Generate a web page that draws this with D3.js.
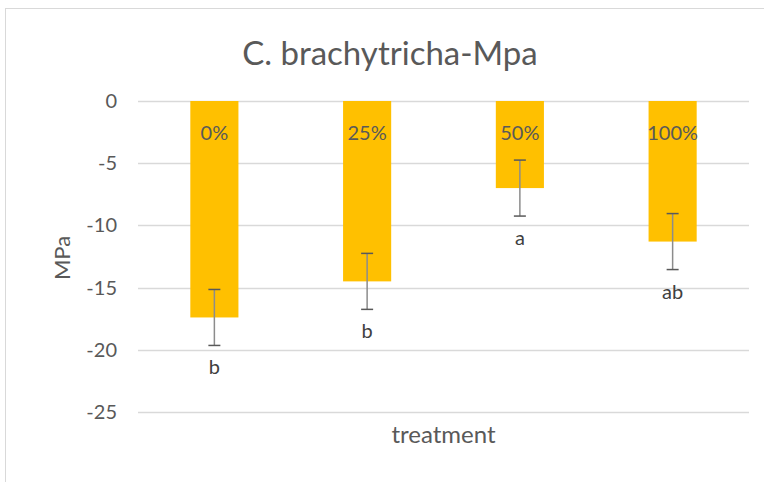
<!DOCTYPE html>
<html>
<head>
<meta charset="utf-8">
<script src="https://cdn.jsdelivr.net/npm/d3@7"></script>
<style>
  body { margin: 0; background: white; }
  text { font-family: Lato, "Liberation Sans", sans-serif; }
</style>
</head>
<body>
<div id="chart_area"></div>
<script>

// Data
var treatments = ["0%", "25%", "50%", "100%"];
var means = [-17.4, -14.5, -7.0, -11.3];
var errors = [2.25, 2.25, 2.25, 2.25];
var letters = ["b", "b", "a", "ab"];
var yTicks = [0, -5, -10, -15, -20, -25];

// Sizes
var svgW = 764;
var svgH = 482;
var margin = {left: 138, right: 15, top: 101, bottom: 70};
var dataW = svgW - margin.left - margin.right;
var dataH = svgH - margin.top - margin.bottom;

var textColor = "#595959";

var svg = d3.select("#chart_area")
            .append("svg")
              .attr("width", svgW)
              .attr("height", svgH);

// Chart border
svg.append("rect")
     .attr("x", 5.5)
     .attr("y", 8.5)
     .attr("width", 770)
     .attr("height", 490)
     .attr("fill", "white")
     .attr("stroke", "#d9d9d9")
     .attr("stroke-width", 1);

// Scales
var yScale = d3.scaleLinear()
                .domain([0, -25])
                .range([0, dataH]);

var xScale = d3.scaleBand()
                .domain(treatments)
                .range([0, dataW])
                .paddingInner(0.685)
                .paddingOuter(0.3425);

var g = svg.append("g")
             .attr("transform", "translate(" + margin.left + "," + margin.top + ")");

// Gridlines
g.selectAll(".grid")
  .data(yTicks)
  .enter()
  .append("line")
    .attr("class", "grid")
    .attr("x1", 0)
    .attr("x2", dataW)
    .attr("y1", function(d) { return Math.round(yScale(d)) + 0.5; })
    .attr("y2", function(d) { return Math.round(yScale(d)) + 0.5; })
    .attr("stroke", "#d9d9d9")
    .attr("stroke-width", 1.5);

// Y axis labels (plain hyphen like the original)
var yAxis = d3.axisLeft(yScale)
              .tickValues(yTicks)
              .tickFormat(function(d) { return String(d); })
              .tickSize(0)
              .tickPadding(21);
var yAxisG = g.append("g").call(yAxis);
yAxisG.select(".domain").remove();
yAxisG.selectAll("text")
        .attr("fill", textColor)
        .style("font-size", "20px");

// Bars
g.selectAll(".bar")
  .data(means)
  .enter()
  .append("rect")
    .attr("class", "bar")
    .attr("x", function(d, i) { return xScale(treatments[i]); })
    .attr("y", yScale(0))
    .attr("width", xScale.bandwidth())
    .attr("height", function(d) { return yScale(d) - yScale(0); })
    .attr("fill", "#ffc000");

// Treatment labels inside bars
g.selectAll(".pct")
  .data(treatments)
  .enter()
  .append("text")
    .attr("class", "pct")
    .attr("x", function(d) { return xScale(d) + xScale.bandwidth() / 2; })
    .attr("y", yScale(0) + 39)
    .attr("text-anchor", "middle")
    .attr("fill", textColor)
    .style("font-size", "20px")
    .text(function(d) { return d; });

// Error bars
var errG = g.selectAll(".err")
            .data(means)
            .enter()
            .append("g")
              .attr("class", "err")
              .attr("transform", function(d, i) {
                return "translate(" + (xScale(treatments[i]) + xScale.bandwidth() / 2) + ",0)";
              });

errG.append("line")
      .attr("x1", 0)
      .attr("x2", 0)
      .attr("y1", function(d, i) { return yScale(d + errors[i]); })
      .attr("y2", function(d, i) { return yScale(d - errors[i]); })
      .attr("stroke", "#8c8c8c")
      .attr("stroke-width", 1.5);

errG.selectAll(".cap")
      .data(function(d, i) { return [d + errors[i], d - errors[i]]; })
      .enter()
      .append("line")
        .attr("class", "cap")
        .attr("x1", -6)
        .attr("x2", 6)
        .attr("y1", function(d) { return yScale(d); })
        .attr("y2", function(d) { return yScale(d); })
        .attr("stroke", "#595959")
        .attr("stroke-width", 1.5);

// Significance letters
g.selectAll(".letter")
  .data(letters)
  .enter()
  .append("text")
    .attr("class", "letter")
    .attr("x", function(d, i) { return xScale(treatments[i]) + xScale.bandwidth() / 2; })
    .attr("y", function(d, i) { return yScale(means[i] - errors[i]) + 29; })
    .attr("text-anchor", "middle")
    .attr("fill", "#404040")
    .style("font-size", "20px")
    .text(function(d) { return d; });

// Title
svg.append("text")
     .attr("x", 390)
     .attr("y", 65)
     .attr("text-anchor", "middle")
     .attr("fill", textColor)
     .style("font-size", "33px")
     .text("C. brachytricha-Mpa");

// Axis titles
svg.append("text")
     .attr("x", margin.left + dataW / 2)
     .attr("y", 443)
     .attr("text-anchor", "middle")
     .attr("fill", textColor)
     .style("font-size", "24px")
     .text("treatment");

svg.append("text")
     .attr("transform", "translate(70,258) rotate(-90)")
     .attr("text-anchor", "middle")
     .attr("fill", textColor)
     .style("font-size", "22px")
     .text("MPa");

</script>
</body>
</html>
